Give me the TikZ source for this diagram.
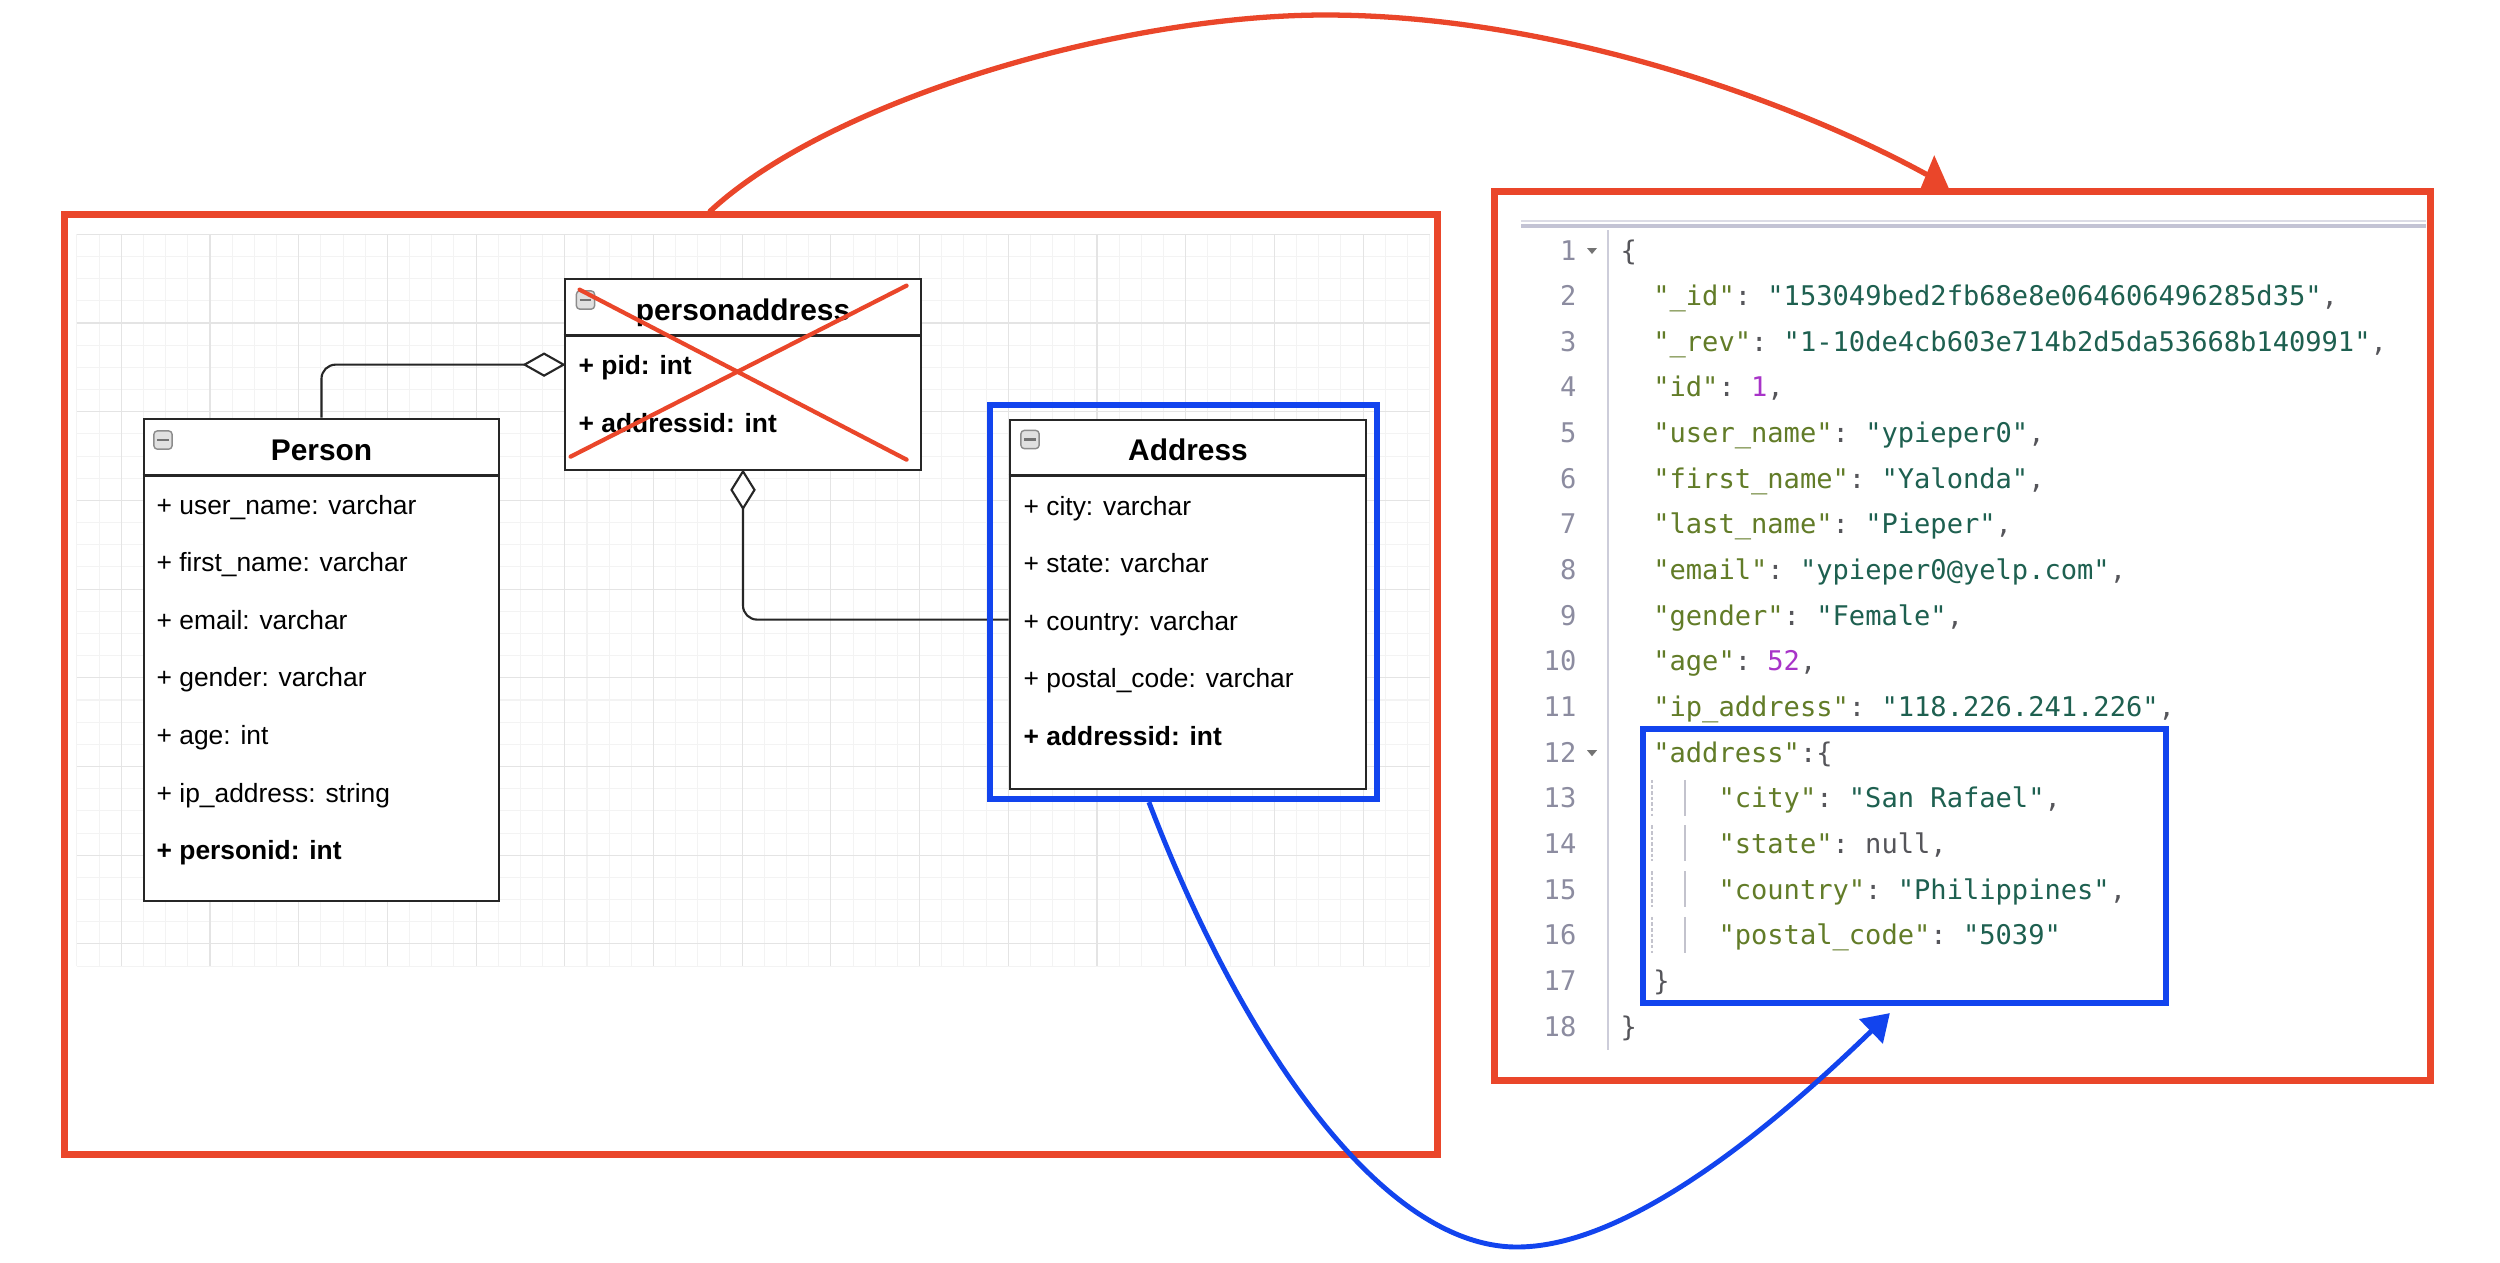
\documentclass[tikz,border=0pt]{standalone}
\usepackage{fontspec}
\setmainfont{Liberation Sans}
\setmonofont{DejaVu Sans Mono}
\usetikzlibrary{arrows.meta,calc}
\definecolor{skred}{RGB}{234,70,42}
\definecolor{skblue}{RGB}{18,68,238}
\definecolor{gridminor}{RGB}{243,243,243}
\definecolor{gridmajor}{RGB}{228,228,228}
\definecolor{jkey}{RGB}{98,124,40}
\definecolor{jstr}{RGB}{30,96,80}
\definecolor{jnum}{RGB}{168,52,200}
\definecolor{jpunc}{RGB}{85,85,90}
\definecolor{jlnum}{RGB}{140,140,160}
\definecolor{jgutter}{RGB}{205,205,218}
\definecolor{jguide}{RGB}{195,195,205}
\definecolor{jtop}{RGB}{195,195,212}
\newcommand\jk[1]{\textcolor{jkey}{#1}}
\newcommand\js[1]{\textcolor{jstr}{#1}}
\newcommand\jn[1]{\textcolor{jnum}{#1}}
\newcommand\jp[1]{\textcolor{jpunc}{#1}}
\begin{document}
\begin{tikzpicture}[x=0.01cm,y=-0.01cm,
  redframe/.style={draw=skred,line width=2pt,inner sep=0pt},
  blueframe/.style={draw=skblue,line width=1.7pt,inner sep=0pt},
  umlbox/.style={draw=black!85,line width=0.75pt,fill=white,inner sep=0pt},
  umlsep/.style={draw=black!85,line width=0.75pt},
  umltitle/.style={anchor=base,inner sep=0pt,font=\fontsize{8.5}{10}\selectfont\bfseries},
  umlentry/.style={anchor=base west,inner sep=0pt,font=\fontsize{7.5}{9}\selectfont},
  umlkey/.style={anchor=base west,inner sep=0pt,font=\fontsize{7.5}{9}\selectfont\bfseries},
  collapse/.style={draw=black!45,fill=black!12,rounded corners=1pt,line width=0.4pt,minimum width=5.2pt,minimum height=5.2pt,inner sep=0pt},
  conn/.style={draw=black!85,line width=0.6pt,rounded corners=4pt},
  diam/.style={draw=black!85,line width=0.6pt,fill=white},
  code/.style={anchor=base west,inner sep=0pt,font=\ttfamily\fontsize{7.7}{9}\selectfont},
  lnum/.style={anchor=base east,inner sep=0pt,font=\ttfamily\fontsize{7.7}{9}\selectfont,text=jlnum},
]
\useasboundingbox (0,0) rectangle (2500,1262);
\fill[white] (0,0) rectangle (2500,1262);
% grid
\foreach \i in {0,...,61} \draw[gridminor,line width=0.3pt] ({76.95+\i*22.175},234.3) -- ({76.95+\i*22.175},966.1);
\foreach \j in {0,...,33} \draw[gridminor,line width=0.3pt] (76.95,{234.3+\j*22.175}) -- (1429.6,{234.3+\j*22.175});
\foreach \i in {0,...,14} \draw[gridmajor,line width=0.3pt] ({121.3+\i*88.7},234.3) -- ({121.3+\i*88.7},966.1);
\foreach \j in {0,...,8} \draw[gridmajor,line width=0.3pt] (76.95,{234.3+\j*88.7}) -- (1429.6,{234.3+\j*88.7});
% frames
\node[redframe,minimum width=13.72cm,minimum height=9.39cm] (lframe) at (751,684.5) {};
\node[redframe,minimum width=9.35cm,minimum height=8.88cm] (rframe) at (1962.5,636) {};
% JSON editor
\draw[jtop!60,line width=0.6pt] (1521,221) -- (2426,221);
\draw[jtop,line width=0.9pt] (1521,226) -- (2426,226);
\draw[jgutter,line width=0.4pt] (1608,230) -- (1608,1050);
\foreach \n in {1,...,18} \node[lnum] (ln\n) at (1577,{260+(\n-1)*45.65}) {\n};
\foreach \c in {250,752.15} \fill[black!55] (1587,\c-2) -- (1597,\c-2) -- (1592,\c+4) -- cycle;
\foreach \n in {13,...,16} {
  \draw[jguide,line width=0.3pt,dash pattern=on 1pt off 0.6pt] (1652,{250+(\n-1)*45.65-18}) -- ++(0,36);
  \draw[jguide,line width=0.3pt] (1685,{250+(\n-1)*45.65-18}) -- ++(0,36);
}
\node[code] (c1) at (1620,260) {\jp{\{}};
\node[code] (c2) at (1652.6,305.65) {\jk{"\_id"}\jp{:} \js{"153049bed2fb68e8e064606496285d35"}\jp{,}};
\node[code] (c3) at (1652.6,351.3) {\jk{"\_rev"}\jp{:} \js{"1-10de4cb603e714b2d5da53668b140991"}\jp{,}};
\node[code] (c4) at (1652.6,396.95) {\jk{"id"}\jp{:} \jn{1}\jp{,}};
\node[code] (c5) at (1652.6,442.6) {\jk{"user\_name"}\jp{:} \js{"ypieper0"}\jp{,}};
\node[code] (c6) at (1652.6,488.25) {\jk{"first\_name"}\jp{:} \js{"Yalonda"}\jp{,}};
\node[code] (c7) at (1652.6,533.9) {\jk{"last\_name"}\jp{:} \js{"Pieper"}\jp{,}};
\node[code] (c8) at (1652.6,579.55) {\jk{"email"}\jp{:} \js{"ypieper0@yelp.com"}\jp{,}};
\node[code] (c9) at (1652.6,625.2) {\jk{"gender"}\jp{:} \js{"Female"}\jp{,}};
\node[code] (c10) at (1652.6,670.85) {\jk{"age"}\jp{:} \jn{52}\jp{,}};
\node[code] (c11) at (1652.6,716.5) {\jk{"ip\_address"}\jp{:} \js{"118.226.241.226"}\jp{,}};
\node[code] (c12) at (1652.6,762.15) {\jk{"address"}\jp{:\{}};
\node[code] (c13) at (1717.8,807.8) {\jk{"city"}\jp{:} \js{"San Rafael"}\jp{,}};
\node[code] (c14) at (1717.8,853.45) {\jk{"state"}\jp{:} \jp{null}\jp{,}};
\node[code] (c15) at (1717.8,899.1) {\jk{"country"}\jp{:} \js{"Philippines"}\jp{,}};
\node[code] (c16) at (1717.8,944.75) {\jk{"postal\_code"}\jp{:} \js{"5039"}};
\node[code] (c17) at (1652.6,990.4) {\jp{\}}};
\node[code] (c18) at (1620,1036.05) {\jp{\}}};
% Person
\node[umlbox,minimum width=3.55cm,minimum height=4.82cm] (person) at (321.5,660) {};
\draw[umlsep] ($(person.north west)+(0,58)$) -- ($(person.north east)+(0,58)$);
\node[umltitle] (persont) at (321.5,460) {Person};
\node[collapse] (personicon) at (163,440) {};
\draw[black!55,line width=0.6pt] ($(personicon.west)+(4,0)$) -- ($(personicon.east)+(-4,0)$);
\node[umlentry] (p1) at (156,514) {+ user\_name: varchar};
\node[umlentry] (p2) at (156,571.6) {+ first\_name: varchar};
\node[umlentry] (p3) at (156,629.2) {+ email: varchar};
\node[umlentry] (p4) at (156,686.8) {+ gender: varchar};
\node[umlentry] (p5) at (156,744.4) {+ age: int};
\node[umlentry] (p6) at (156,802) {+ ip\_address: string};
\node[umlkey] (p7) at (156,859.6) {+ personid: int};
% personaddress
\node[umlbox,minimum width=3.56cm,minimum height=1.91cm] (pa) at (743,374.5) {};
\draw[umlsep] ($(pa.north west)+(0,58)$) -- ($(pa.north east)+(0,58)$);
\node[umltitle] (pat) at (743,320) {personaddress};
\node[collapse] (paicon) at (585.5,300) {};
\draw[black!55,line width=0.6pt] ($(paicon.west)+(4,0)$) -- ($(paicon.east)+(-4,0)$);
\node[umlkey] (pa1) at (578,374) {+ pid: int};
\node[umlkey] (pa2) at (578,432) {+ addressid: int};
% Address
\node[umlbox,minimum width=3.56cm,minimum height=3.69cm] (addr) at (1188,604.5) {};
\draw[umlsep] ($(addr.north west)+(0,57)$) -- ($(addr.north east)+(0,57)$);
\node[umltitle] (addrt) at (1188,460) {Address};
\node[collapse] (addricon) at (1030,439.5) {};
\draw[black!55,line width=0.6pt] ($(addricon.west)+(4,0)$) -- ($(addricon.east)+(-4,0)$);
\node[umlentry] (a1) at (1023,515) {+ city: varchar};
\node[umlentry] (a2) at (1023,572.6) {+ state: varchar};
\node[umlentry] (a3) at (1023,630.2) {+ country: varchar};
\node[umlentry] (a4) at (1023,687.8) {+ postal\_code: varchar};
\node[umlkey] (a5) at (1023,745.4) {+ addressid: int};
% connectors
\coordinate (d1tip) at ($(pa.north west)+(0,87)$);
\coordinate (d1end) at ($(d1tip)+(-39,0)$);
\draw[conn] (person.north) |- (d1end);
\draw[diam] (d1tip) -- ++(-19.5,-11) -- ++(-19.5,11) -- ++(19.5,11) -- cycle;
\coordinate (d2tip) at (pa.south);
\coordinate (d2end) at ($(d2tip)+(0,37)$);
\coordinate (addrport) at ($(addr.north west)+(0,201)$);
\draw[conn] (addrport) -| (d2end);
\draw[diam] (d2tip) -- ++(11.5,18.5) -- ++(-11.5,18.5) -- ++(-11.5,-18.5) -- cycle;
% red cross
\draw[skred,line width=1.2pt,line cap=round] ($(pa.north west)+(16,12)$) -- ($(pa.north west)+(343,182)$);
\draw[skred,line width=1.2pt,line cap=round] ($(pa.north west)+(7,179)$) -- ($(pa.north west)+(343,8)$);
% blue frames
\node[blueframe,minimum width=3.87cm,minimum height=3.94cm] (addrframe) at (1183.5,602) {};
\node[blueframe,minimum width=5.23cm,minimum height=2.74cm] (jsonframe) at (1904.5,866) {};
% red arrow
\coordinate (rstart) at ($(lframe.north west)+(649,0)$);
\coordinate (rpeak) at (1325,15);
\coordinate (rend) at ($(rframe.north west)+(435,-14)$);
\draw[skred,line width=1.5pt,line cap=round] (rstart) .. controls (830,100) and (1120,15) .. (rpeak) .. controls (1560,15) and (1800,105) .. (rend);
\fill[skred] ($(rframe.north west)+(429,1)$) -- ($(rframe.north west)+(458,1)$) -- ($(rframe.north west)+(443,-33)$) -- cycle;
% blue arrow
\coordinate (bstart) at ($(addrframe.south west)+(162,0)$);
\coordinate (bbottom) at (1517,1247);
\coordinate (bend) at ($(jsonframe.south west)+(250,7)$);
\draw[skblue,line width=1.4pt,-{Triangle[width=9.4pt,length=7.5pt]}] (bstart) .. controls (1240,1040) and (1380,1247) .. (bbottom) .. controls (1640,1247) and (1800,1100) .. (bend);
\end{tikzpicture}
\end{document}
